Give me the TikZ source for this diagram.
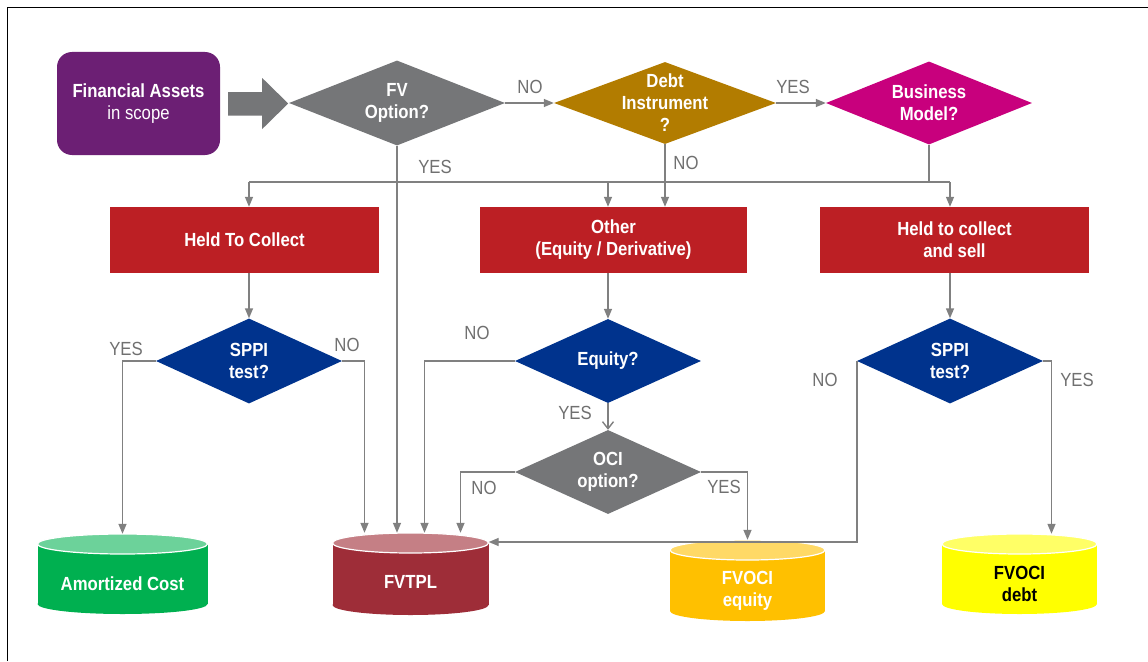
\documentclass[tikz,border=0pt]{standalone}
\usepackage{fontspec}
\setmainfont{Liberation Sans}[FakeStretch=0.88]
\usetikzlibrary{shapes.geometric,arrows.meta,calc}
\definecolor{purp}{RGB}{108,31,116}
\definecolor{diagray}{RGB}{117,118,120}
\definecolor{gold}{RGB}{178,124,0}
\definecolor{magen}{RGB}{200,0,125}
\definecolor{boxred}{RGB}{188,31,36}
\definecolor{navy}{RGB}{0,51,141}
\definecolor{conngray}{RGB}{128,128,128}
\definecolor{labgray}{RGB}{112,112,112}
\definecolor{acbody}{RGB}{0,176,80}
\definecolor{actop}{RGB}{108,210,154}
\definecolor{tplbody}{RGB}{158,45,56}
\definecolor{tpltop}{RGB}{197,127,133}
\definecolor{eqbody}{RGB}{255,192,0}
\definecolor{eqtop}{RGB}{255,217,102}
\definecolor{dbbody}{RGB}{255,255,0}
\definecolor{dbtop}{RGB}{255,255,102}
\newcommand\cylshape[6]{%
  \fill[#5] (#1-#4,#2+10) rectangle (#1+#4,#3-10);
  \fill[#5] (#1,#3-10) ellipse [x radius=#4pt, y radius=10pt];
  \filldraw[fill=#6,draw=white,line width=1.2pt] (#1,#2+10) ellipse [x radius=#4pt, y radius=10pt];
}
\begin{document}
\begin{tikzpicture}[x=1pt,y=-1pt,
  txt/.style={text=white,font=\fontsize{19}{22}\selectfont\bfseries,align=center},
  dia/.style={diamond,inner sep=0pt,draw=none},
  box/.style={rectangle,fill=boxred,inner sep=0pt,txt},
  cyl/.style={rectangle,inner sep=0pt,draw=none},
  lab/.style={text=labgray,font=\fontsize{19}{20}\selectfont,inner sep=0pt},
  line/.style={draw=conngray,line width=1.4pt},
  conn/.style={line,-{Triangle[length=10pt,width=8pt]}},
  connv/.style={line,-{Straight Barb[length=7pt,width=11pt]}},
]
\useasboundingbox (0,0) rectangle (1148,661);
\fill[white] (0,0) rectangle (1148,661);
\draw[black,line width=1.2pt] (7.5,661) -- (7.5,7.5) -- (1148,7.5);

% start box and big arrow
\node[box,fill=purp,rounded corners=15pt,minimum width=163pt,minimum height=103pt] (fa) at (138.5,103.5) {Financial Assets\\{\mdseries in scope}};
\fill[diagray] ($(fa.east)+(8,-11.5)$) -- ++(34,0) -- ++(0,-14) -- ($(fa.east)+(68,0)$)
  -- ($(fa.east)+(42,25.5)$) -- ++(0,-13.5) -- ($(fa.east)+(8,12)$) -- cycle;

% diamonds
\node[dia,fill=diagray,minimum width=216pt,minimum height=85pt,label={[txt]center:FV\\Option?}] (fv) at (397,103) {};
\node[dia,fill=gold,minimum width=222pt,minimum height=82pt,label={[txt]center:Debt\\Instrument\\?}] (debt) at (665,103) {};
\node[dia,fill=magen,minimum width=206pt,minimum height=83pt,label={[txt]center:Business\\Model?}] (bm) at (929,103) {};

% boxes
\node[box,minimum width=269pt,minimum height=66pt] (htc) at (244.5,240) {Held To Collect};
\node[box,minimum width=267pt,minimum height=66pt] (oth) at (613.5,240) {Other\\(Equity / Derivative)};
\node[box,minimum width=269pt,minimum height=66pt] (htcs) at (954.5,240) {Held to collect\\and sell};

% second row diamonds
\node[dia,fill=navy,minimum width=186pt,minimum height=85pt,label={[txt]center:SPPI\\test?}] (sppi1) at (249,361) {};
\node[dia,fill=navy,minimum width=186pt,minimum height=84pt,label={[txt]center:Equity?}] (eq) at (608,361) {};
\node[dia,fill=diagray,minimum width=186pt,minimum height=84pt,label={[txt]center:OCI\\option?}] (oci) at (608,472) {};
\node[dia,fill=navy,minimum width=186pt,minimum height=85pt,label={[txt]center:SPPI\\test?}] (sppi2) at (950,361) {};

% cylinders
\cylshape{122.5}{534}{614}{85}{acbody}{actop}
\cylshape{410.5}{533}{615}{78}{tplbody}{tpltop}
\cylshape{747.5}{540}{621}{77.5}{eqbody}{eqtop}
\cylshape{1019.5}{534}{614}{77.5}{dbbody}{dbtop}
\node[cyl,minimum width=170pt,minimum height=80pt,label={[txt,yshift=-10pt]center:Amortized Cost}] (ac) at (122.5,574) {};
\node[cyl,minimum width=156pt,minimum height=82pt,label={[txt,yshift=-8pt]center:FVTPL}] (fvtpl) at (410.5,574) {};
\node[cyl,minimum width=155pt,minimum height=81pt,label={[txt,yshift=-10pt]center:FVOCI\\equity}] (fvoe) at (747.5,580.5) {};
\node[cyl,minimum width=155pt,minimum height=80pt,label={[txt,text=black,yshift=-10pt]center:FVOCI\\debt}] (fvod) at (1019.5,574) {};

% bus coordinates
\coordinate (bx1) at (249,182);
\coordinate (bx2) at (608,182);
\coordinate (bx3) at (950,182);
\coordinate (j) at (857,542);

% connectors
\draw[conn] (fv.east) -- (debt.west);
\draw[conn] (debt.east) -- (bm.west);
\draw[conn] (fv.south) -- (fv.south |- fvtpl.north);
\draw[conn] (debt.south) -- (debt.south |- oth.north);
\draw[line] (bm.south) -- (bm.south |- bx3);
\draw[line] (bx1) -- (bx3);
\draw[conn] (bx1) -- (bx1 |- htc.north);
\draw[conn] (bx2) -- (bx2 |- oth.north);
\draw[conn] (bx3) -- (bx3 |- htcs.north);

\draw[conn] (htc.south -| sppi1.north) -- (sppi1.north);
\draw[conn] (oth.south -| eq.north) -- (eq.north);
\draw[conn] (htcs.south -| sppi2.north) -- (sppi2.north);

\draw[conn] (sppi1.west) -| (ac.north);
\draw[conn] (sppi1.east) -| ([xshift=-46pt]fvtpl.north);
\draw[conn] (eq.west) -| ([xshift=14pt]fvtpl.north);
\draw[connv] (eq.south) -- (oci.north);
\draw[conn] (oci.west) -| ([xshift=50pt]fvtpl.north);
\draw[conn] (oci.east) -| (fvoe.north);
\draw[conn] (sppi2.west) -- (sppi2.west |- j) -- (j -| fvtpl.east);
\draw[conn] (sppi2.east) -| ([xshift=32pt]fvod.north);

% labels
\node[lab] (l1) at (530,87) {NO};
\node[lab] (l2) at (793,87) {YES};
\node[lab] (l3) at (435,167) {YES};
\node[lab] (l4) at (686,163) {NO};
\node[lab] (l5) at (126,349) {YES};
\node[lab] (l6) at (347,345) {NO};
\node[lab] (l7) at (477,333) {NO};
\node[lab] (l8) at (575,413) {YES};
\node[lab] (l9) at (484,488) {NO};
\node[lab] (l10) at (724,487) {YES};
\node[lab] (l11) at (825,380) {NO};
\node[lab] (l12) at (1077,380) {YES};
\end{tikzpicture}
\end{document}
